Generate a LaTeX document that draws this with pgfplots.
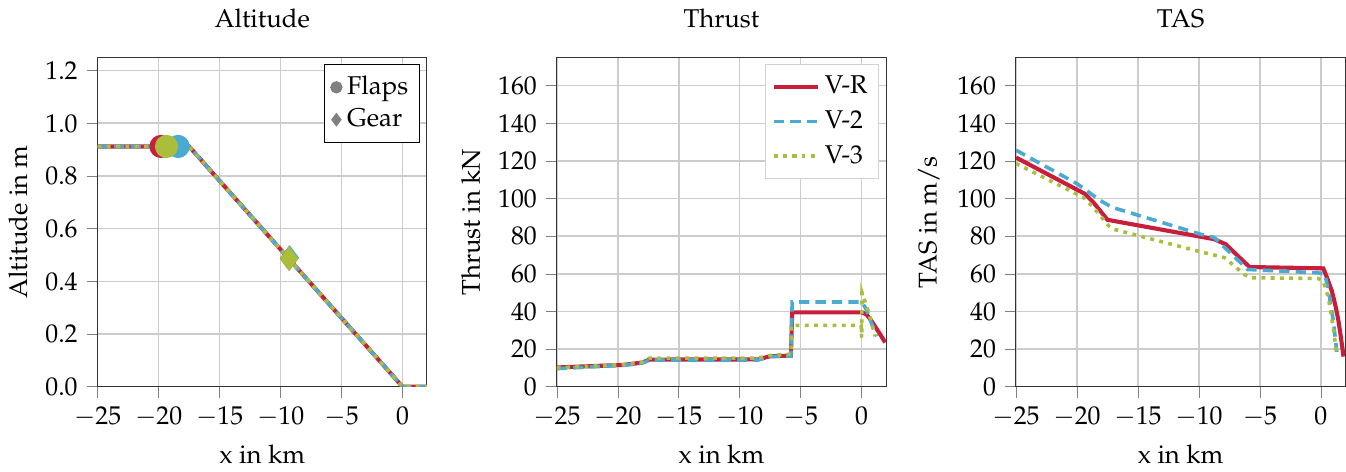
\documentclass[border=0pt]{standalone}
\usepackage[T1]{fontenc}
\usepackage{mathpazo}
\usepackage{pgfplots}
\pgfplotsset{compat=1.18}

\definecolor{cR}{RGB}{200,30,60}
\definecolor{cB}{RGB}{75,170,210}
\definecolor{cG}{RGB}{170,190,60}

\pgfplotsset{
  panel/.style={
    scale only axis, width=128pt, height=128pt,
    xmin=-25, xmax=2, xtick={-25,-20,...,0},
    grid=major, grid style={gray!40, line width=0.6pt},
    tick align=outside, tick pos=left,
    xlabel={x in km},
    title style={yshift=2pt},
    axis line style={black!80},
  },
  vr/.style={cR, line width=1.6pt},
  v2/.style={cB, line width=1.4pt, dash pattern=on 4pt off 2.4pt},
  v3/.style={cG, line width=1.4pt, dash pattern=on 1.5pt off 2.1pt},
}

\begin{document}
\begin{tikzpicture}
% altitude
\begin{axis}[panel, title={Altitude}, ylabel={Altitude in m},
  ymin=0, ymax=1.25, ytick={0,0.2,...,1.2},
  yticklabel style={/pgf/number format/.cd, fixed, fixed zerofill, precision=1},
  legend style={at={(0.98,0.98)}, anchor=north east, draw=black, inner sep=2.5pt,
    /tikz/every even column/.append style={column sep=1pt}},
  legend cell align=left]
\addplot[vr, forget plot] coordinates {(-25,0.912) (-17.5,0.912) (0,0) (2,0)};
\addplot[v2, forget plot] coordinates {(-25,0.912) (-17.5,0.912) (0,0) (2,0)};
\addplot[v3, forget plot] coordinates {(-25,0.912) (-17.5,0.912) (0,0) (2,0)};
\addplot[only marks, mark=*, mark size=4.3pt, cR, forget plot] coordinates {(-19.8,0.912)};
\addplot[only marks, mark=*, mark size=4.3pt, cB, forget plot] coordinates {(-18.4,0.912)};
\addplot[only marks, mark=*, mark size=4.3pt, cG, forget plot] coordinates {(-19.35,0.912)};
\addplot[only marks, mark=diamond*, mark size=4.5pt, cR, forget plot] coordinates {(-9.3,0.487)};
\addplot[only marks, mark=diamond*, mark size=4.5pt, cB, forget plot] coordinates {(-9.25,0.49)};
\addplot[only marks, mark=diamond*, mark size=4.5pt, cG, forget plot] coordinates {(-9.3,0.486)};
\addlegendimage{only marks, mark=*, gray, mark size=2.2pt}
\addlegendentry{Flaps}
\addlegendimage{only marks, mark=diamond*, gray, mark size=2.4pt}
\addlegendentry{Gear}
\end{axis}

% thrust
\begin{axis}[panel, at={(178.5pt,0)}, title={Thrust}, ylabel={Thrust in kN},
  ymin=0, ymax=175, ytick={0,20,...,160},
  legend style={at={(0.98,0.98)}, anchor=north east, draw=gray!35, inner sep=2.5pt,
    row sep=1pt},
  legend cell align=left]
\addplot[vr] coordinates {
  (-25,10.2) (-19.5,11.6) (-18,12.8) (-17.4,14.4) (-8.5,14.5) (-7.5,16.2)
  (-5.8,16.5) (-5.7,39.5) (0,39.5) (0.4,38.4) (0.8,35) (1.2,31) (1.6,27) (1.92,23.5)};
\addlegendentry{V-R}
\addplot[v2] coordinates {
  (-25,9.6) (-19.5,11.4) (-18,12.5) (-17.4,14.2) (-8.5,14.2) (-7.5,16)
  (-5.8,16.3) (-5.7,45) (0,45) (0.3,42) (0.55,38.5) (0.9,32) (1.24,26.8)};
\addlegendentry{V-2}
\addplot[v3] coordinates {
  (-25,10) (-19.5,11.8) (-18,13) (-17.4,15.2) (-8.5,15.2) (-7.5,16.6)
  (-5.8,17.3) (-5.75,32.6) (-0.05,32.6) (0,26) (0.03,50) (0.55,40) (1.1,26.8)};
\addlegendentry{V-3}
\end{axis}

% TAS
\begin{axis}[panel, at={(357pt,0)}, title={TAS}, ylabel={TAS in m/s},
  ymin=0, ymax=175, ytick={0,20,...,160}]
\addplot[vr] coordinates {
  (-25,121.8) (-19.35,102.5) (-18.66,98) (-17.5,88.7) (-8.75,78.4) (-7.8,75.7)
  (-5.85,63.6) (0.2,62.9) (0.5,58) (0.9,50.9) (1.2,43) (1.45,34.8) (1.65,26) (1.86,16)};
\addplot[v2] coordinates {
  (-25,125.7) (-20,107.9) (-18.1,99) (-17.15,95.4) (-9.85,81) (-8.75,79.3)
  (-6,62.3) (-0.2,60.5) (0.34,59.6) (0.7,48) (1.03,34.8) (1.31,18.5)};
\addplot[v3] coordinates {
  (-25,118.6) (-19.5,100.7) (-18.66,95.4) (-17.4,85.5) (-17,83.7) (-10.1,72.1)
  (-7.9,68.6) (-6.27,59.6) (-5.7,57.9) (-0.2,57.5) (0.2,56) (0.62,47.3) (1.03,31) (1.3,17)};
\end{axis}
\end{tikzpicture}
\end{document}
